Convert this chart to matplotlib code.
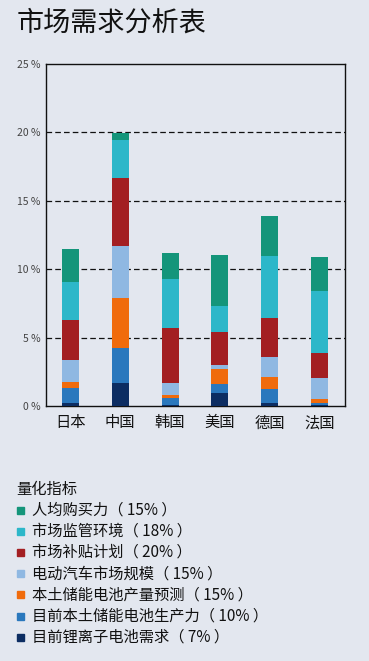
import matplotlib
matplotlib.use("Agg")
import matplotlib.pyplot as plt
from matplotlib.patches import Rectangle

plt.rcParams['font.family'] = ['Noto Sans CJK SC', 'DejaVu Sans']

# --- Data (percent points) ---
countries = ['日本', '中国', '韩国', '美国', '德国', '法国']

# stacked bottom -> top
navy_demand = [0.20, 1.71, 0.10, 0.93, 0.20, 0.10]      # 目前锂离子电池需求
blue_capacity = [1.09, 2.51, 0.46, 0.66, 1.02, 0.14]    # 目前本土储能电池生产力
orange_forecast = [0.49, 3.70, 0.24, 1.11, 0.92, 0.25]  # 本土储能电池产量预测
lightblue_ev = [1.58, 3.78, 0.91, 0.30, 1.46, 1.58]     # 电动汽车市场规模
red_subsidy = [2.93, 4.99, 3.97, 2.43, 2.81, 1.78]      # 市场补贴计划
cyan_regulation = [2.80, 2.75, 3.58, 1.90, 4.55, 4.58]  # 市场监管环境
teal_purchase = [2.36, 0.49, 1.90, 3.71, 2.93, 2.48]    # 人均购买力

series_labels = [
    '目前锂离子电池需求（ 7% ）',
    '目前本土储能电池生产力（ 10% ）',
    '本土储能电池产量预测（ 15% ）',
    '电动汽车市场规模（ 15% ）',
    '市场补贴计划（ 20% ）',
    '市场监管环境（ 18% ）',
    '人均购买力（ 15% ）',
]
series_values = [navy_demand, blue_capacity, orange_forecast, lightblue_ev,
                 red_subsidy, cyan_regulation, teal_purchase]
series_colors = ['#0c2d62', '#2a78bd', '#f06b0c', '#8fb8e2',
                 '#a31f22', '#2cb7c9', '#14957a']

y_ticks = [0, 5, 10, 15, 20, 25]
y_tick_labels = ['0 %', '5 %', '10 %', '15 %', '20 %', '25 %']

BG = '#e3e7ef'
W, H = 369, 661

fig = plt.figure(figsize=(W / 100, H / 100), dpi=100, facecolor=BG)
ax = fig.add_axes([46 / W, 1 - 406 / H, 299 / W, 342 / H], facecolor=BG)

x = list(range(len(countries)))
bottom = [0.0] * len(countries)
for vals, col in zip(series_values, series_colors):
    ax.bar(x, vals, width=0.34, bottom=bottom, color=col, zorder=3)
    bottom = [b + v for b, v in zip(bottom, vals)]

ax.set_xlim(-0.49, 5.51)
ax.set_ylim(0, 25)
ax.set_yticks(y_ticks)
ax.set_yticklabels(y_tick_labels, fontsize=7.5, color='#444444')
ax.set_xticks(x)
ax.set_xticklabels(countries, fontsize=11, color='#111111')
ax.tick_params(axis='both', length=0)
ax.tick_params(axis='x', pad=6)
ax.tick_params(axis='y', pad=4)

for yv in y_ticks[1:-1]:
    ax.axhline(yv, color='#111111', linestyle=(0, (4.5, 2.5)), linewidth=0.9, zorder=1)

for side in ['left', 'right', 'top', 'bottom']:
    ax.spines[side].set_color('#111111')
    ax.spines[side].set_linewidth(1.0)

# --- Title ---
fig.text(17 / W, 1 - 23 / H, '市场需求分析表', fontsize=19.5, color='#111111',
         va='center', ha='left')

# --- Legend (drawn by hand, top entry first) ---
fig.text(16 / W, 1 - 489 / H, '量化指标', fontsize=11, color='#111111',
         va='center', ha='left')
y0, step = 510, 21.2
for i, (lab, col) in enumerate(zip(series_labels[::-1], series_colors[::-1])):
    yc = y0 + i * step
    fig.patches.append(Rectangle((17 / W, 1 - (yc + 3.5) / H), 7 / W, 7 / H,
                                 transform=fig.transFigure, color=col))
    fig.text(32 / W, 1 - yc / H, lab, fontsize=11, color='#111111',
             va='center', ha='left')

fig.savefig('out.png', dpi=100, facecolor=BG)
